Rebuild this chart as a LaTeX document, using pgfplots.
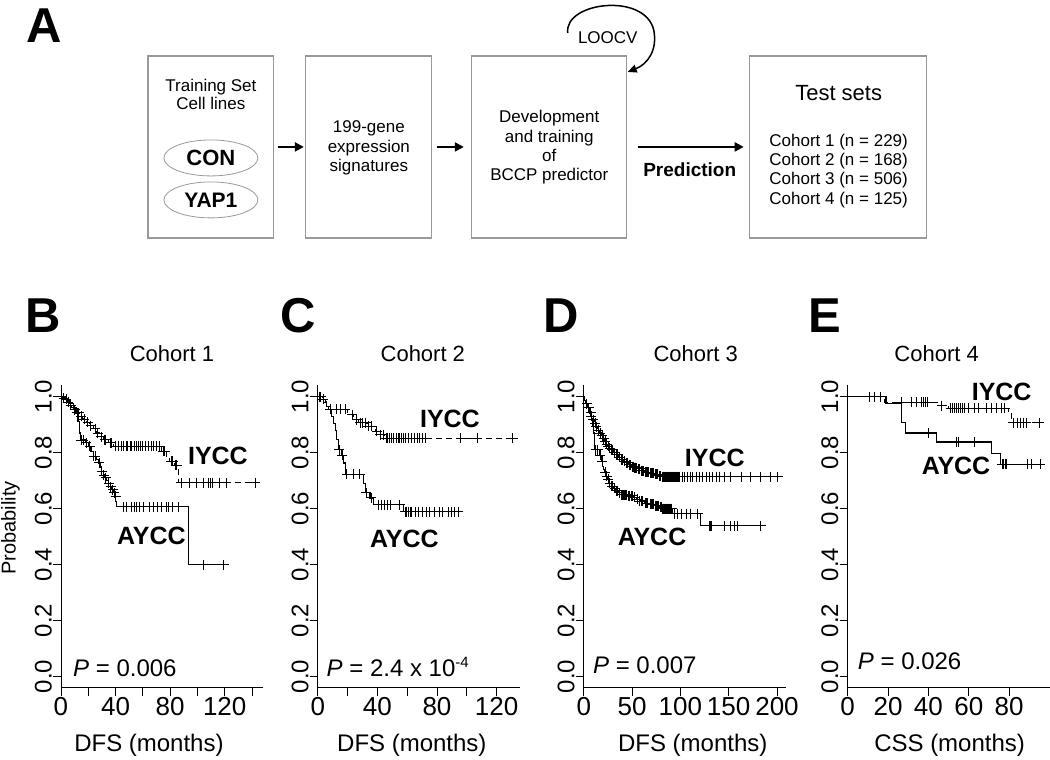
\documentclass[border=0pt]{standalone}
\usepackage{fontspec}
\setmainfont{Liberation Sans}
\usepackage{pgfplots}
\pgfplotsset{compat=1.18}
\usetikzlibrary{arrows.meta}
\newcommand{\fs}[1]{\fontsize{#1}{#1}\selectfont}
\pgfplotsset{
 km/.style={
  scale only axis, width=202pt, height=302.4pt,
  ymin=-0.04, ymax=1.04, xmin=0,
  axis x line*=bottom, axis y line*=left,
  axis line style={line width=0.9pt,-},
  tick align=outside, major tick length=8pt,
  tick style={black,line width=0.9pt},
  ytick={0,0.2,0.4,0.6,0.8,1.0},
  yticklabels={0.0,0.2,0.4,0.6,0.8,1.0},
  yticklabel style={rotate=90,anchor=south,inner sep=1pt,font=\fs{24}},
  xticklabel style={anchor=north,inner sep=1pt,font=\fs{26}},
  /pgf/number format/assume math mode=true,
  clip=false,
 },
 iy/.style={black,line width=1.1pt,dash pattern=on 6pt off 4pt,const plot,mark=none},
 ay/.style={black,line width=1.1pt,const plot,mark=none},
 cens/.style={only marks,mark=+,mark size=5pt,black,mark options={line width=1pt,solid}},
}
\tikzset{
 lab/.style={font=\fs{25}\bfseries,anchor=west,inner sep=0pt},
 pv/.style={font=\fs{24},anchor=base west,inner sep=0pt},
}
\begin{document}
\begin{tikzpicture}
\begin{scope}[x=1pt,y=-1pt]
\path[use as bounding box] (0,0) rectangle (1050,760);
% ---- panel A flowchart ----
\node[font=\fs{49}\bfseries,anchor=base,inner sep=0] at (44,43) {A};
\draw[black!40,line width=1.2pt] (148,56) rectangle (274,238);
\draw[black!40,line width=1.2pt] (306,56) rectangle (432,238);
\draw[black!40,line width=1.2pt] (472,56) rectangle (627,238);
\draw[black!40,line width=1.2pt] (750,56) rectangle (927,238);
\node[font=\fs{17},anchor=base,inner sep=0] at (211,92) {Training Set};
\node[font=\fs{17},anchor=base,inner sep=0] at (211,110) {Cell lines};
\draw[black!40,line width=0.8pt] (211,158) ellipse (47 and 18);
\draw[black!40,line width=0.8pt] (211,200) ellipse (47 and 18);
\node[font=\fs{22}\bfseries,anchor=base,inner sep=0] at (211,166) {CON};
\node[font=\fs{21}\bfseries,anchor=base,inner sep=0] at (211,208) {YAP1};
\node[font=\fs{17},anchor=base,inner sep=0] at (369,133) {199-gene};
\node[font=\fs{17},anchor=base,inner sep=0] at (369,153) {expression};
\node[font=\fs{17},anchor=base,inner sep=0] at (369,172) {signatures};
\node[font=\fs{17},anchor=base,inner sep=0] at (549.5,123) {Development};
\node[font=\fs{17},anchor=base,inner sep=0] at (549.5,143) {and training};
\node[font=\fs{17},anchor=base,inner sep=0] at (549.5,162) {of};
\node[font=\fs{17},anchor=base,inner sep=0] at (549.5,181) {BCCP predictor};
\node[font=\fs{22},anchor=base,inner sep=0] at (839,101) {Test sets};
\node[font=\fs{17},anchor=base,inner sep=0] at (839,147) {Cohort 1 (n = 229)};
\node[font=\fs{17},anchor=base,inner sep=0] at (839,166) {Cohort 2 (n = 168)};
\node[font=\fs{17},anchor=base,inner sep=0] at (839,185) {Cohort 3 (n = 506)};
\node[font=\fs{17},anchor=base,inner sep=0] at (839,205) {Cohort 4 (n = 125)};
\node[font=\fs{19}\bfseries,anchor=base,inner sep=0] at (690,177) {Prediction};
\node[font=\fs{17},anchor=base,inner sep=0] at (608,44) {LOOCV};
\draw[line width=2pt,-{Triangle[length=9pt,width=9pt]}] (278,147)--(304,147);
\draw[line width=2pt,-{Triangle[length=9pt,width=9pt]}] (437,147)--(464,147);
\draw[line width=2pt,-{Triangle[length=9pt,width=9pt]}] (638,147)--(744,147);
\draw[line width=1.5pt,-{Triangle[length=9pt,width=8pt]}] (568,33) .. controls (564,2) and (645,-8) .. (654,30) .. controls (658,50) and (648,64) .. (628,72);
% ---- panel letters / titles / labels ----
\foreach \L/\X in {B/43,C/298,D/561,E/825}{\node[font=\fs{49}\bfseries,anchor=base,inner sep=0] at (\X,333) {\L};}
\node[font=\fs{22},anchor=base,inner sep=0] at (172,362) {Cohort 1};
\node[font=\fs{22},anchor=base,inner sep=0] at (423,362) {Cohort 2};
\node[font=\fs{22},anchor=base,inner sep=0] at (696,362) {Cohort 3};
\node[font=\fs{22},anchor=base,inner sep=0] at (937,362) {Cohort 4};
\node[font=\fs{24},anchor=base,inner sep=0] at (149,752) {DFS (months)};
\node[font=\fs{24},anchor=base,inner sep=0] at (412,752) {DFS (months)};
\node[font=\fs{24},anchor=base,inner sep=0] at (693,752) {DFS (months)};
\node[font=\fs{24},anchor=base,inner sep=0] at (950,752) {CSS (months)};
\node[font=\fs{20},rotate=90,inner sep=0] at (10.5,528) {Probability};
\end{scope}

% ---- B ----
\begin{axis}[km,at={(61pt,-688pt)},anchor=south west,xmax=148,
  xtick={0,20,...,140},xticklabels={0,,40,,80,,120,}]
\addplot[iy] coordinates {(0,1.0)(1.5,0.995)(3,0.99)(5,0.98)(6.6,0.97)(8,0.962)(9,0.954)(11.5,0.942)(13.9,0.93)(16,0.92)(18.8,0.908)(21.2,0.896)(23.7,0.885)(26.1,0.87)(28.5,0.856)(31,0.846)(34.6,0.835)(38.3,0.823)(73.7,0.805)(77.3,0.787)(79.8,0.769)(83,0.754)(85.9,0.692)(143,0.692)};
\addplot[cens] coordinates {(2,0.995)(4,0.99)(5.5,0.98)(7,0.97)(10,0.954)(12,0.942)(13,0.942)(15,0.93)(17,0.92)(19.5,0.908)(22,0.896)(25,0.885)(27,0.87)(29.5,0.856)(32,0.846)(33,0.846)(36,0.835)(37,0.835)(40,0.823)(42,0.823)(44,0.823)(46,0.823)(48,0.823)(49,0.823)(51,0.823)(52,0.823)(54,0.823)(55,0.823)(57,0.823)(58,0.823)(60,0.823)(62,0.823)(64,0.823)(66,0.823)(68,0.823)(70,0.823)(72,0.823)(75,0.805)(76,0.805)(81,0.769)(82,0.769)(84,0.754)(85,0.754)(88.3,0.692)(94.4,0.692)(99.3,0.692)(104.2,0.692)(108,0.692)(109.5,0.692)(111,0.692)(116.4,0.692)(121.3,0.692)(142.5,0.692)};
\addplot[ay] coordinates {(0,1.0)(3,0.99)(6,0.975)(9,0.96)(11,0.94)(12.5,0.91)(13.5,0.87)(14,0.845)(18,0.835)(20,0.823)(22,0.805)(23.7,0.787)(26,0.775)(27.3,0.763)(29,0.748)(29.8,0.733)(31,0.72)(32.2,0.71)(33.5,0.70)(34.6,0.69)(36,0.678)(37,0.668)(38.5,0.656)(39.5,0.644)(40.2,0.625)(40.7,0.606)(93.2,0.40)(121,0.40)};
\addplot[cens] coordinates {(15,0.845)(16.5,0.845)(18.5,0.835)(21,0.823)(24,0.787)(25,0.787)(28,0.763)(30,0.733)(31.5,0.72)(33,0.71)(35,0.69)(36.5,0.678)(38,0.668)(39,0.656)(40,0.644)(45.6,0.606)(48,0.606)(51.7,0.606)(54,0.606)(55.4,0.606)(57.8,0.606)(60.2,0.606)(65,0.606)(67.6,0.606)(71,0.606)(73.7,0.606)(77.3,0.606)(78.5,0.606)(82,0.606)(85.9,0.606)(104.7,0.40)(119.3,0.40)};
\node[lab] at (axis cs:93,0.79) {IYCC};
\node[lab] at (axis cs:41,0.504) {AYCC};
\node[pv] at (axis cs:8.8,0) {\textit{P} = 0.006};
\end{axis}

% ---- C ----
\begin{axis}[km,at={(318pt,-688pt)},anchor=south west,xmax=135.6,
  xtick={0,20,...,120},xticklabels={0,,40,,80,,120}]
\addplot[iy] coordinates {(0,1.0)(3,0.99)(4.9,0.983)(6,0.97)(7.2,0.955)(20,0.935)(24,0.918)(27.3,0.906)(33,0.894)(38.5,0.876)(40.7,0.864)(45,0.852)(131,0.852)};
\addplot[cens] coordinates {(1,1.0)(2,1.0)(3.5,0.99)(8.3,0.955)(12.8,0.955)(15,0.955)(18.4,0.955)(23,0.935)(26,0.918)(28.5,0.906)(30,0.906)(32,0.906)(34,0.894)(36,0.894)(39.6,0.876)(42,0.864)(44,0.864)(46,0.852)(47,0.852)(48,0.852)(49.5,0.852)(51,0.852)(52.5,0.852)(54,0.852)(55,0.852)(56,0.852)(57.5,0.852)(59,0.852)(61,0.852)(63,0.852)(65,0.852)(67,0.852)(68,0.852)(70,0.852)(72,0.852)(96,0.852)(107,0.852)(131,0.852)};
\addplot[ay] coordinates {(0,1.0)(2,0.99)(4,0.98)(6,0.965)(8.3,0.954)(9.4,0.93)(10.5,0.905)(11.6,0.88)(12.8,0.846)(13.9,0.81)(16.1,0.79)(17.2,0.763)(18.3,0.722)(30.6,0.69)(31.8,0.656)(35,0.638)(37.4,0.614)(57.5,0.588)(97.8,0.588)};
\addplot[cens] coordinates {(14.5,0.81)(16.5,0.79)(19.5,0.722)(24,0.722)(28,0.722)(32.5,0.656)(36,0.638)(41,0.614)(43,0.614)(45,0.614)(47,0.614)(49,0.614)(55,0.614)(58.6,0.588)(59.7,0.588)(61,0.588)(62,0.588)(63,0.588)(65.5,0.588)(67.5,0.588)(70,0.588)(73,0.588)(75,0.588)(78.5,0.588)(82,0.588)(84,0.588)(87.5,0.588)(89.5,0.588)(92,0.588)(94.4,0.588)};
\node[lab] at (axis cs:68.5,0.92) {IYCC};
\node[lab] at (axis cs:35,0.493) {AYCC};
\node[pv] at (axis cs:5.8,0) {\textit{P} = 2.4 x 10\textsuperscript{\fs{15}-4}};
\end{axis}

% ---- D ----
\begin{axis}[km,at={(584pt,-688pt)},anchor=south west,xmax=209,
  xtick={0,50,...,200}]
\addplot[iy] coordinates {(0,1.0)(1,0.985)(2,0.975)(4.1,0.96)(6,0.945)(7.6,0.93)(9,0.918)(11,0.905)(12.5,0.893)(14.5,0.88)(16,0.87)(18,0.86)(20,0.85)(21.4,0.84)(23,0.83)(24.8,0.822)(26.5,0.816)(28.3,0.81)(31,0.80)(33.4,0.793)(36,0.784)(38.6,0.775)(41,0.769)(43.8,0.763)(46.5,0.756)(49,0.75)(52,0.746)(56,0.742)(59,0.736)(62.8,0.73)(68,0.726)(73,0.722)(77,0.718)(80,0.714)(203,0.714)};
\addplot[cens] coordinates {(3,0.975)(5,0.96)(7,0.945)(8,0.93)(10,0.918)(12,0.905)(13,0.893)(15,0.88)(17,0.87)(19,0.86)(20.5,0.85)(22,0.84)(24,0.83)(25.5,0.822)(27,0.816)(29,0.81)(30,0.81)(32,0.80)(34,0.793)(35,0.793)(37,0.784)(39,0.775)(40,0.775)(42,0.769)(44,0.763)(45,0.763)(47,0.756)(48,0.756)(50,0.75)(51,0.75)(53,0.746)(54,0.746)(55,0.746)(57,0.742)(58,0.742)(60,0.736)(61,0.736)(62,0.736)(64,0.73)(65,0.73)(66,0.73)(67,0.73)(69,0.726)(70,0.726)(71,0.726)(72,0.726)(74,0.722)(75,0.722)(76,0.722)(78,0.718)(79,0.718)(81,0.714)(82,0.714)(83,0.714)(84,0.714)(85,0.714)(86,0.714)(87,0.714)(88,0.714)(89,0.714)(90,0.714)(91,0.714)(92,0.714)(93,0.714)(94,0.714)(95,0.714)(96,0.714)(97,0.714)(98,0.714)(99,0.714)(102.4,0.714)(104.1,0.714)(107.6,0.714)(111,0.714)(112.8,0.714)(116.2,0.714)(119.7,0.714)(123.1,0.714)(126.6,0.714)(130,0.714)(133.4,0.714)(136.9,0.714)(140.3,0.714)(145.5,0.714)(152.4,0.714)(162.8,0.714)(173.1,0.714)(183.4,0.714)(193.8,0.714)(200.7,0.714)};
\addplot[ay] coordinates {(0,1.0)(1,0.985)(2,0.975)(4,0.96)(6,0.94)(7.6,0.92)(9,0.895)(10,0.87)(11,0.84)(11.5,0.81)(16,0.79)(18,0.77)(19.5,0.75)(20.5,0.74)(21.4,0.73)(23,0.716)(24.8,0.704)(26.5,0.69)(28.3,0.68)(31,0.672)(33.4,0.663)(36,0.656)(38.6,0.65)(45.5,0.645)(52,0.64)(55,0.633)(57.6,0.627)(62.8,0.619)(68,0.615)(73,0.61)(78,0.605)(81.7,0.6)(92,0.582)(120.7,0.538)(187,0.538)};
\addplot[cens] coordinates {(12.5,0.81)(14.5,0.81)(17,0.79)(19,0.77)(22,0.73)(24,0.716)(25.5,0.704)(27,0.69)(29,0.68)(30,0.68)(32,0.672)(34,0.663)(35,0.663)(37,0.656)(39,0.65)(40,0.65)(41,0.65)(42,0.65)(43,0.65)(44,0.65)(46,0.645)(47,0.645)(49,0.645)(50,0.645)(53,0.64)(56,0.633)(58,0.627)(60,0.627)(61,0.627)(64,0.619)(65,0.619)(66,0.619)(69,0.615)(70,0.615)(71,0.615)(72,0.615)(74,0.61)(75,0.61)(76,0.61)(77,0.61)(79,0.605)(80,0.605)(82,0.6)(83,0.6)(84,0.6)(85,0.6)(86,0.6)(87,0.6)(88,0.6)(89,0.6)(90,0.6)(91,0.6)(94,0.582)(97,0.582)(100.7,0.582)(106,0.582)(110,0.582)(118,0.582)(130,0.538)(131,0.538)(132,0.538)(145.5,0.538)(152,0.538)(156,0.538)(159,0.538)(183,0.538)};
\node[lab] at (axis cs:104.5,0.78) {IYCC};
\node[lab] at (axis cs:35,0.50) {AYCC};
\node[pv] at (axis cs:9.5,0.01) {\textit{P} = 0.007};
\end{axis}

% ---- E ----
\begin{axis}[km,at={(848pt,-688pt)},anchor=south west,xmax=100,
  xtick={0,20,...,80}]
\addplot[iy] coordinates {(0,1.0)(18.5,0.98)(45,0.968)(50,0.958)(79.5,0.94)(81,0.907)(97,0.907)};
\addplot[cens] coordinates {(11,1.0)(13.4,1.0)(16.5,1.0)(26.5,0.98)(31.5,0.98)(34,0.98)(36.5,0.98)(37.5,0.98)(38.5,0.98)(39.5,0.98)(46.5,0.968)(51,0.958)(52,0.958)(53,0.958)(54,0.958)(55,0.958)(56,0.958)(57,0.958)(58,0.958)(60,0.958)(63,0.958)(65,0.958)(68.6,0.958)(71,0.958)(73.6,0.958)(76,0.958)(77.7,0.958)(82,0.907)(84,0.907)(85.5,0.907)(87,0.907)(88.4,0.907)(95,0.907)};
\addplot[ay] coordinates {(0,1.0)(19,0.975)(26.7,0.907)(28.8,0.87)(43.8,0.838)(71.4,0.796)(75.5,0.758)(97,0.758)};
\addplot[cens] coordinates {(39.8,0.87)(53.8,0.838)(55.1,0.838)(62.9,0.838)(76.5,0.758)(77.2,0.758)(78,0.758)(78.8,0.758)(89,0.758)(91,0.758)(95.5,0.758)};
\node[lab] at (axis cs:61.4,1.018) {IYCC};
\node[lab] at (axis cs:36.6,0.754) {AYCC};
\node[pv] at (axis cs:5,0.025) {\textit{P} = 0.026};
\end{axis}
\end{tikzpicture}
\end{document}
